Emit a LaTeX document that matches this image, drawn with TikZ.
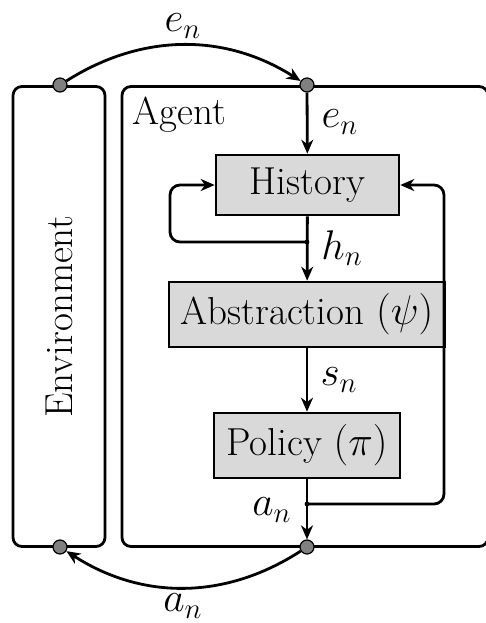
\documentclass[tikz,border=0pt]{standalone}
\usetikzlibrary{arrows.meta}
\begin{document}
\begin{tikzpicture}[x=0.5pt,y=-0.5pt,
  line width=1.4pt,
  every node/.style={font=\fontsize{19.5}{23}\selectfont},
  arr/.style={-{Stealth[length=7pt,width=6pt,inset=2.2pt]}},
  frame/.style={draw,rounded corners=4.5pt,inner sep=0pt},
  block/.style={draw,fill=gray!30,inner sep=0pt,line width=1.3pt},
  bigdot/.style={circle,draw,fill=gray,line width=0.6pt,inner sep=0pt,minimum size=7pt},
  smalldot/.style={circle,fill=black,inner sep=0pt,minimum size=2.4pt},
  lbl/.style={inner sep=0pt}]
\useasboundingbox (0,0) rectangle (486,623);
\clip (0,0) rectangle (486,623);
% frames
\node[frame,minimum width=46pt,minimum height=230pt] (env) at (59,316.5)
  {\rotatebox{90}{Environment}};
\node[frame,minimum width=183pt,minimum height=230pt] (agent) at (305,316.5) {};
\node[lbl,anchor=north west] (agentlbl) at (131,96) {Agent};
% blocks
\node[block,minimum width=91.5pt,minimum height=30pt] (hist) at (307.5,185) {History};
\node[block,minimum width=138pt,minimum height=32.5pt] (abs) at (307,314.5) {Abstraction $(\psi)$};
\node[block,minimum width=93pt,minimum height=32.5pt] (pol) at (307,445.5) {Policy $(\pi)$};
% dots
\node[bigdot] (envtop) at (60,85) {};
\node[bigdot] (agtop) at (307,85) {};
\node[bigdot] (envbot) at (60,547) {};
\node[bigdot] (agbot) at (307,547) {};
\node[smalldot] (jh) at (307,242) {};
\node[smalldot] (ja) at (307,504) {};
% connectors
\draw[arr] (envtop) .. controls (142,33) and (225,33) .. (agtop);
\draw[arr] (agbot) .. controls (225,600) and (142,600) .. (envbot);
\draw[arr] (agtop) -- (hist);
\draw[arr] (hist) -- (abs);
\draw[arr] (abs) -- (pol);
\draw[arr] (pol) -- (agbot);
\draw[arr,rounded corners=5pt] (jh.center) -- (170,242) -- (170,185) -- (hist.west);
\draw[arr,rounded corners=5pt] (ja.center) -- (444,504) -- (444,185) -- (hist.east);
% labels
\node[lbl] (l1) at (183,26) {$e_n$};
\node[lbl] (l2) at (183,606) {$a_n$};
\node[lbl] (l3) at (340,122) {$e_n$};
\node[lbl] (l4) at (342,248) {$h_n$};
\node[lbl] (l5) at (339,380) {$s_n$};
\node[lbl] (l6) at (272,510) {$a_n$};
\end{tikzpicture}
\end{document}
